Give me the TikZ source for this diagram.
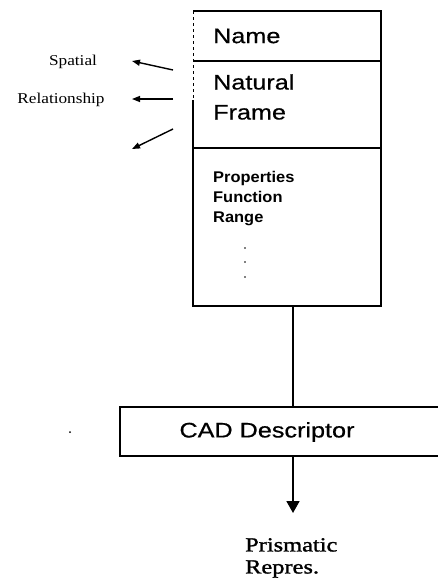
\documentclass[tikz,border=0pt]{standalone}
\usepackage{fontspec}
\usetikzlibrary{arrows.meta,calc}
\setmainfont{Liberation Serif}
\newfontfamily\boxsans[FakeStretch=1.2,FakeBold=0.6]{Liberation Sans}
\newfontfamily\listsans[FakeStretch=1.06]{Liberation Sans}
\newfontfamily\capserif[FakeStretch=1.22,FakeBold=1.4]{Liberation Serif}
\newfontfamily\smallserif[FakeStretch=1.15]{Liberation Serif}
\tikzset{
  frameline/.style={line width=1.8pt},
  slot/.style={draw=none, inner sep=0pt, outer sep=0pt},
  slottext/.style={inner sep=0pt, anchor=west, align=left,
    font=\boxsans\fontsize{21pt}{30pt}\selectfont},
  listtext/.style={inner sep=0pt, anchor=north west, align=left,
    font=\listsans\bfseries\fontsize{15.5pt}{20pt}\selectfont},
  relarrow/.style={line width=1.4pt, -{Triangle[width=6pt,length=8pt]}},
  flowarrow/.style={line width=1.8pt, -{Triangle[width=13pt,length=12pt]}},
  sidelabel/.style={inner sep=0pt, font=\smallserif\fontsize{15pt}{18pt}\selectfont},
}
\begin{document}
\begin{tikzpicture}[x=1pt,y=-1pt]
\useasboundingbox (0,0) rectangle (438,584);
\clip (0,0) rectangle (438,584);

% frame record: three stacked slots
\node[slot, minimum width=188pt, minimum height=50pt]  (name)  at (287,36)    {};
\node[slot, minimum width=188pt, minimum height=87pt]  (frame) at (287,104.5) {};
\node[slot, minimum width=188pt, minimum height=158pt] (props) at (287,227)   {};

\draw[frameline] (name.north west) -- (name.north east) -- (props.south east) -- (props.south west) -- (props.north west);
\draw[frameline] (name.south west) -- (name.south east);
\draw[frameline] (frame.south west) -- (frame.south east);
\draw[line width=1pt, dash pattern=on 3pt off 3pt] (name.north west) -- (193,100);
\draw[frameline] (193,100) -- (props.north west);

\node[slottext] (nametxt) at (213,36) {Name};
\node[slottext] (frametxt) at (213,97) {Natural\\Frame};
\node[listtext] (proptxt) at (213,171) {Properties\\Function\\Range};
\foreach \yy in {248,262,277} \fill (245,\yy) circle (0.9pt);

% side relations
\node[sidelabel] (spatial) at (73,62) {Spatial};
\node[sidelabel] (relation) at (61,100) {Relationship};
\coordinate (r1s) at (173,70);  \coordinate (r1e) at (132,61);
\coordinate (r2s) at (173,99);  \coordinate (r2e) at (132,99);
\coordinate (r3s) at (173,129); \coordinate (r3e) at (132,149);
\draw[relarrow] (r1s) -- (r1e);
\draw[relarrow] (r2s) -- (r2e);
\draw[relarrow] (r3s) -- (r3e);

% CAD descriptor box (runs off the right side)
\node[slot, minimum width=330pt, minimum height=49pt] (cad) at (285,431.5) {};
\draw[frameline] (cad.north east) -- (cad.north west) -- (cad.south west) -- (cad.south east);
\node[inner sep=0pt, font=\boxsans\fontsize{21pt}{26pt}\selectfont] (cadtxt) at (267,432) {CAD Descriptor};

\draw[frameline] ([xshift=6pt]props.south) -- ([xshift=6pt]props.south |- cad.north);

% output representation
\node[inner sep=0pt, anchor=north west, align=left,
  font=\capserif\fontsize{20pt}{22pt}\selectfont] (prism) at (245,538) {Prismatic\\Repres.};
\draw[flowarrow] ([xshift=8pt]cad.south) -- ([xshift=8pt]cad.south |- 0,513);

\fill (70,432) circle (1pt);
\end{tikzpicture}
\end{document}
